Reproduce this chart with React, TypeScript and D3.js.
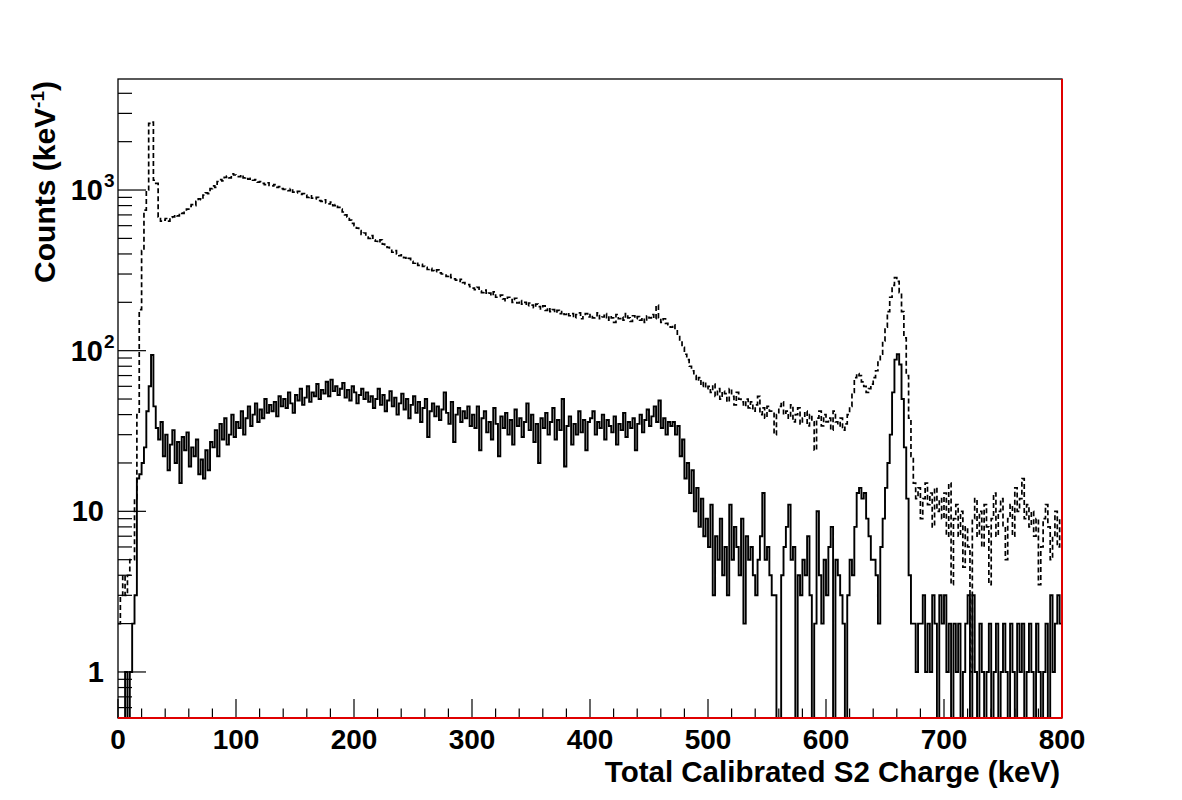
import React from "react";
import * as d3 from "d3";

// ---------- data (2 keV bins, counts per keV) ----------
const BIN_WIDTH = 2;
const X_DOMAIN: [number, number] = [0, 800];
const Y_DOMAIN: [number, number] = [0.517, 4910];

// dashed histogram (all events)
const total000 = [2, 3, 4, 3, 4, 5, 5, 12, 40, 180, 420, 750, 1000, 2600, 2650, 1150, 1100, 680, 640,
  650, 665, 640, 675, 680, 700, 690, 720, 715, 740, 760,
  790, 810, 800, 850, 880, 870, 930, 960, 950, 1020, 1060, 1040, 1130, 1160, 1140, 1200, 1220, 1190, 1260, 1240];
const total100 = [1230, 1210, 1240, 1190, 1200, 1170, 1180, 1150, 1160, 1120, 1130, 1100, 1080, 1110, 1070, 1060, 1080, 1040, 1050, 1020,
  1010, 1000, 990, 1020, 970, 960, 980, 940, 950, 930, 900, 920, 890, 880, 900, 860, 850, 870, 830, 820, 840, 800, 810, 780, 760,
  730, 700, 680, 650, 620];
const total200 = [600, 580, 560, 530, 540, 510, 500, 520, 490, 480, 470, 490, 460, 450, 440,
  430, 410, 420, 400, 390, 395, 380, 370, 375, 360, 350, 355, 340, 345, 335, 330, 320, 325, 315, 310, 318, 305, 300, 295, 290, 298, 285, 280, 275, 270, 278, 265, 260, 258, 250];
const total300 = [245, 240, 248, 235, 230, 238, 225, 228, 220, 232, 215, 218, 222, 210, 205, 215, 208, 200, 212, 198,
  205, 195, 200, 190, 198, 192, 185, 195, 188, 182, 190, 178, 185, 175, 180, 172, 178, 170, 175, 168,
  172, 165, 170, 160, 168, 172, 158, 165, 170, 162];
const total400 = [168, 160, 165, 172, 158, 162, 170, 155, 165, 160, 150, 168, 158, 162, 155, 170, 160, 152, 165, 158,
  163, 155, 160, 150, 165, 160, 168, 158, 192, 160, 150, 158, 148, 145, 140,
  145, 135, 125, 115, 105, 95, 88, 80, 75, 70, 65, 68, 60, 64, 58];
const total500 = [60, 55, 62, 52, 58, 50, 56, 54, 48, 58, 52, 46, 55, 50, 48,
  45, 50, 44, 48, 42, 46, 52, 40, 44, 38, 45, 42, 42, 30, 40,
  45, 48, 40, 42, 38, 46, 36, 40, 44, 35, 38, 42, 34, 40, 36,
  24, 38, 42, 34, 40];
const total600 = [36, 38, 32, 42, 36, 34, 38, 32, 35, 40,
  45, 55, 68, 72, 70, 64, 60, 55, 58, 62,
  68, 75, 85, 95, 115, 140, 175, 215, 255, 285, 270, 230, 175, 120, 70, 38, 22, 15, 12, 14,
  9, 12, 15, 11, 13, 8, 14, 10, 12, 9];
const total700 = [13, 7, 15, 3.5, 9, 11, 7, 10, 4.5, 8,
  6, 1, 9, 12, 7, 10, 6, 11, 8, 3.5,
  9, 13, 7, 10, 12, 8, 5, 9, 11, 7,
  14, 10, 12, 16, 9, 11, 8, 10, 7, 9,
  3.5, 6, 9, 11, 8, 5, 7, 10, 6, 9];

// solid histogram (selected events)
const selected000 = [0, 0, 0, 1, 0, 1, 2, 3, 16, 17, 20, 25, 42, 60, 94, 45, 33,
  28, 36, 22, 30, 18, 26, 32, 20, 27, 15, 29, 24, 31, 19, 25, 22, 28, 17, 21, 16, 24, 18, 27,
  25, 32, 22, 35, 28, 38, 26, 30, 40, 29];
const selected100 = [36, 33, 42, 30, 38, 45, 34, 40, 47, 36, 43, 38, 50, 41, 46,
  42, 48, 39, 52, 45, 50, 44, 55, 47, 41, 53, 49, 58, 46, 51, 60, 48, 55, 52, 62,
  50, 57, 54, 64, 52, 66, 56, 60, 53, 58, 63, 51, 57, 49, 60];
const selected200 = [55, 47, 53, 58, 50,
  55, 48, 52, 44, 50, 58, 46, 53, 42, 49, 56, 45, 51, 40, 47, 54, 43, 50, 38, 46, 52, 41, 48, 36, 44,
  50, 29, 42, 47, 39, 45, 37, 43, 55, 41, 35, 48, 27, 40, 44, 36, 42, 38, 45, 34];
const selected300 = [40, 33, 45, 24, 38, 42, 31, 36, 28, 44, 35, 22, 39, 33, 41, 30, 37, 26, 43, 34,
  38, 29, 36, 47, 32, 40, 27, 35, 20, 38, 33, 41, 30, 36, 44, 28, 37, 32, 50, 19,
  34, 39, 26, 35, 30, 42, 31, 37, 24, 36];
const selected400 = [38, 42, 30, 36, 33, 40, 28, 37, 34, 31, 39, 26, 35, 32, 41, 29, 36, 33, 38, 24,
  35, 40, 31, 37, 43, 34, 39, 45, 36, 49, 33, 38, 30, 36, 34,
  36, 30, 34, 22, 28, 16, 20, 13, 18, 10, 14, 8, 12, 7, 9];
const selected500 = [6, 11, 3, 7, 5, 9, 4, 6, 3, 11, 5, 8, 6, 4, 9, 2, 7, 5, 6, 4, 3, 5, 7, 13, 5, 6, 4, 3, 3, 0,
  0, 4, 6, 8, 11, 5, 6, 0, 4, 3, 5, 4, 7, 3, 0, 2, 10, 4, 2, 5];
const selected600 = [3, 6, 8, 0, 5, 4, 3, 2, 0, 3,
  5, 4, 8, 13, 14, 12, 13, 9, 7, 5,
  5, 4, 2, 6, 9, 14, 20, 30, 55, 88,
  95, 82, 50, 25, 12, 4, 2, 2, 1, 2,
  2, 3, 1, 2, 1, 3, 2, 0, 3, 2];
const selected700 = [3, 1, 2, 0, 2, 1, 2, 0, 1, 2,
  3, 0, 3, 1, 0, 2, 1, 0, 1, 2,
  0, 1, 2, 0, 1, 2, 1, 0, 2, 1,
  0, 2, 1, 2, 0, 1, 2, 1, 0, 2,
  1, 0, 1, 2, 0, 3, 1, 2, 3, 2];

const totalCounts = [...total000, ...total100, ...total200, ...total300, ...total400, ...total500, ...total600, ...total700];
const selectedCounts = [...selected000, ...selected100, ...selected200, ...selected300, ...selected400, ...selected500, ...selected600, ...selected700];

// axis ticks & labels
const xMajorTicks = [0, 100, 200, 300, 400, 500, 600, 700, 800];
const xMinorStep = 20;
const yMajorTicks = [1, 10, 100, 1000];
const yTickLabels: [string, string][] = [["1", ""], ["10", ""], ["10", "2"], ["10", "3"]];
const xTitle = "Total Calibrated S2 Charge (keV)";
const yTitle = "Counts (keV";

const FONT = "'Liberation Sans', Arial, Helvetica, sans-serif";

export default function App() {
  const W = 1182, H = 800;
  const left = 118, right = 1062, top = 79, bottom = 718;
  const x = d3.scaleLinear().domain(X_DOMAIN).range([left, right]);
  const y = d3.scaleLog().domain(Y_DOMAIN).range([bottom, top]);
  const yv = (v: number) => (v <= Y_DOMAIN[0] ? bottom + 4 : y(v));

  const line = d3
    .line<[number, number]>()
    .x((d) => x(d[0]))
    .y((d) => yv(d[1]))
    .curve(d3.curveStepAfter);

  const histPath = (vals: number[]) => {
    const pts: [number, number][] = vals.map((v, i) => [i * BIN_WIDTH, v]);
    pts.push([vals.length * BIN_WIDTH, vals[vals.length - 1]]);
    return line(pts) || "";
  };

  const xMinor = d3.range(X_DOMAIN[0], X_DOMAIN[1] + 1, xMinorStep).filter((v) => v % 100 !== 0);
  const yMinor: number[] = [];
  [0.1, 1, 10, 100, 1000].forEach((dec) => {
    for (let k = 2; k <= 9; k++) {
      const v = dec * k;
      if (v > Y_DOMAIN[0] && v < Y_DOMAIN[1]) yMinor.push(v);
    }
  });

  const majorX = 19, minorX = 9.5, majorY = 28, minorY = 14;

  return (
    <svg width={W} height={H} style={{ position: "absolute", left: 0, top: 0, background: "#fff" }}>
      <defs>
        <clipPath id="frame">
          <rect x={left} y={top} width={right - left} height={bottom - top} />
        </clipPath>
      </defs>
      <rect x={0} y={0} width={W} height={H} fill="#fff" />
      {/* histograms */}
      <g clipPath="url(#frame)" fill="none">
        <path d={histPath(totalCounts)} stroke="#000" strokeWidth={1.7} strokeDasharray="5,3" />
        <path d={histPath(selectedCounts)} stroke="#000" strokeWidth={1.9} />
      </g>
      {/* frame */}
      <rect x={left} y={top} width={right - left} height={bottom - top} fill="none" stroke="#000" strokeWidth={1.3} />
      {/* ticks */}
      <g stroke="#000" strokeWidth={1.2}>
        {xMajorTicks.map((t) => (
          <line key={"xM" + t} x1={x(t)} x2={x(t)} y1={bottom} y2={bottom - majorX} />
        ))}
        {xMinor.map((t) => (
          <line key={"xm" + t} x1={x(t)} x2={x(t)} y1={bottom} y2={bottom - minorX} />
        ))}
        {yMajorTicks.map((t) => (
          <line key={"yM" + t} x1={left} x2={left + majorY} y1={y(t)} y2={y(t)} />
        ))}
        {yMinor.map((t) => (
          <line key={"ym" + t} x1={left} x2={left + minorY} y1={y(t)} y2={y(t)} />
        ))}
      </g>
      {/* red line along bottom & right */}
      <g stroke="#e00000" strokeWidth={2} fill="none">
        <line x1={left} x2={right} y1={bottom} y2={bottom} />
        <line x1={right} x2={right} y1={top} y2={bottom} />
      </g>
      {/* x tick labels */}
      <g fontFamily={FONT} fontWeight="bold" fontSize={28} textAnchor="middle" fill="#000">
        {xMajorTicks.map((t) => (
          <text key={"xl" + t} x={x(t)} y={749}>
            {t}
          </text>
        ))}
      </g>
      {/* y tick labels */}
      <g fontFamily={FONT} fontWeight="bold" fill="#000">
        {yMajorTicks.map((t, i) => {
          const [base, sup] = yTickLabels[i];
          return (
            <text key={"yl" + t} x={sup ? 103 : 104} y={y(t) + 10} fontSize={29} textAnchor="end">
              {base}
            </text>
          );
        })}
        {yMajorTicks.map((t, i) => {
          const sup = yTickLabels[i][1];
          return sup ? (
            <text key={"ys" + t} x={104} y={y(t) - 3} fontSize={19} textAnchor="start">
              {sup}
            </text>
          ) : null;
        })}
      </g>
      {/* axis titles */}
      <text x={1060} y={782} fontFamily={FONT} fontWeight="bold" fontSize={29.5} textAnchor="end" fill="#000">
        {xTitle}
      </text>
      <text
        transform="translate(55,81) rotate(-90)"
        fontFamily={FONT}
        fontWeight="bold"
        fontSize={30}
        textAnchor="end"
        fill="#000"
      >
        {yTitle}
        <tspan fontSize={19} dy={-11}>-1</tspan>
        <tspan dy={11}>)</tspan>
      </text>
    </svg>
  );
}
